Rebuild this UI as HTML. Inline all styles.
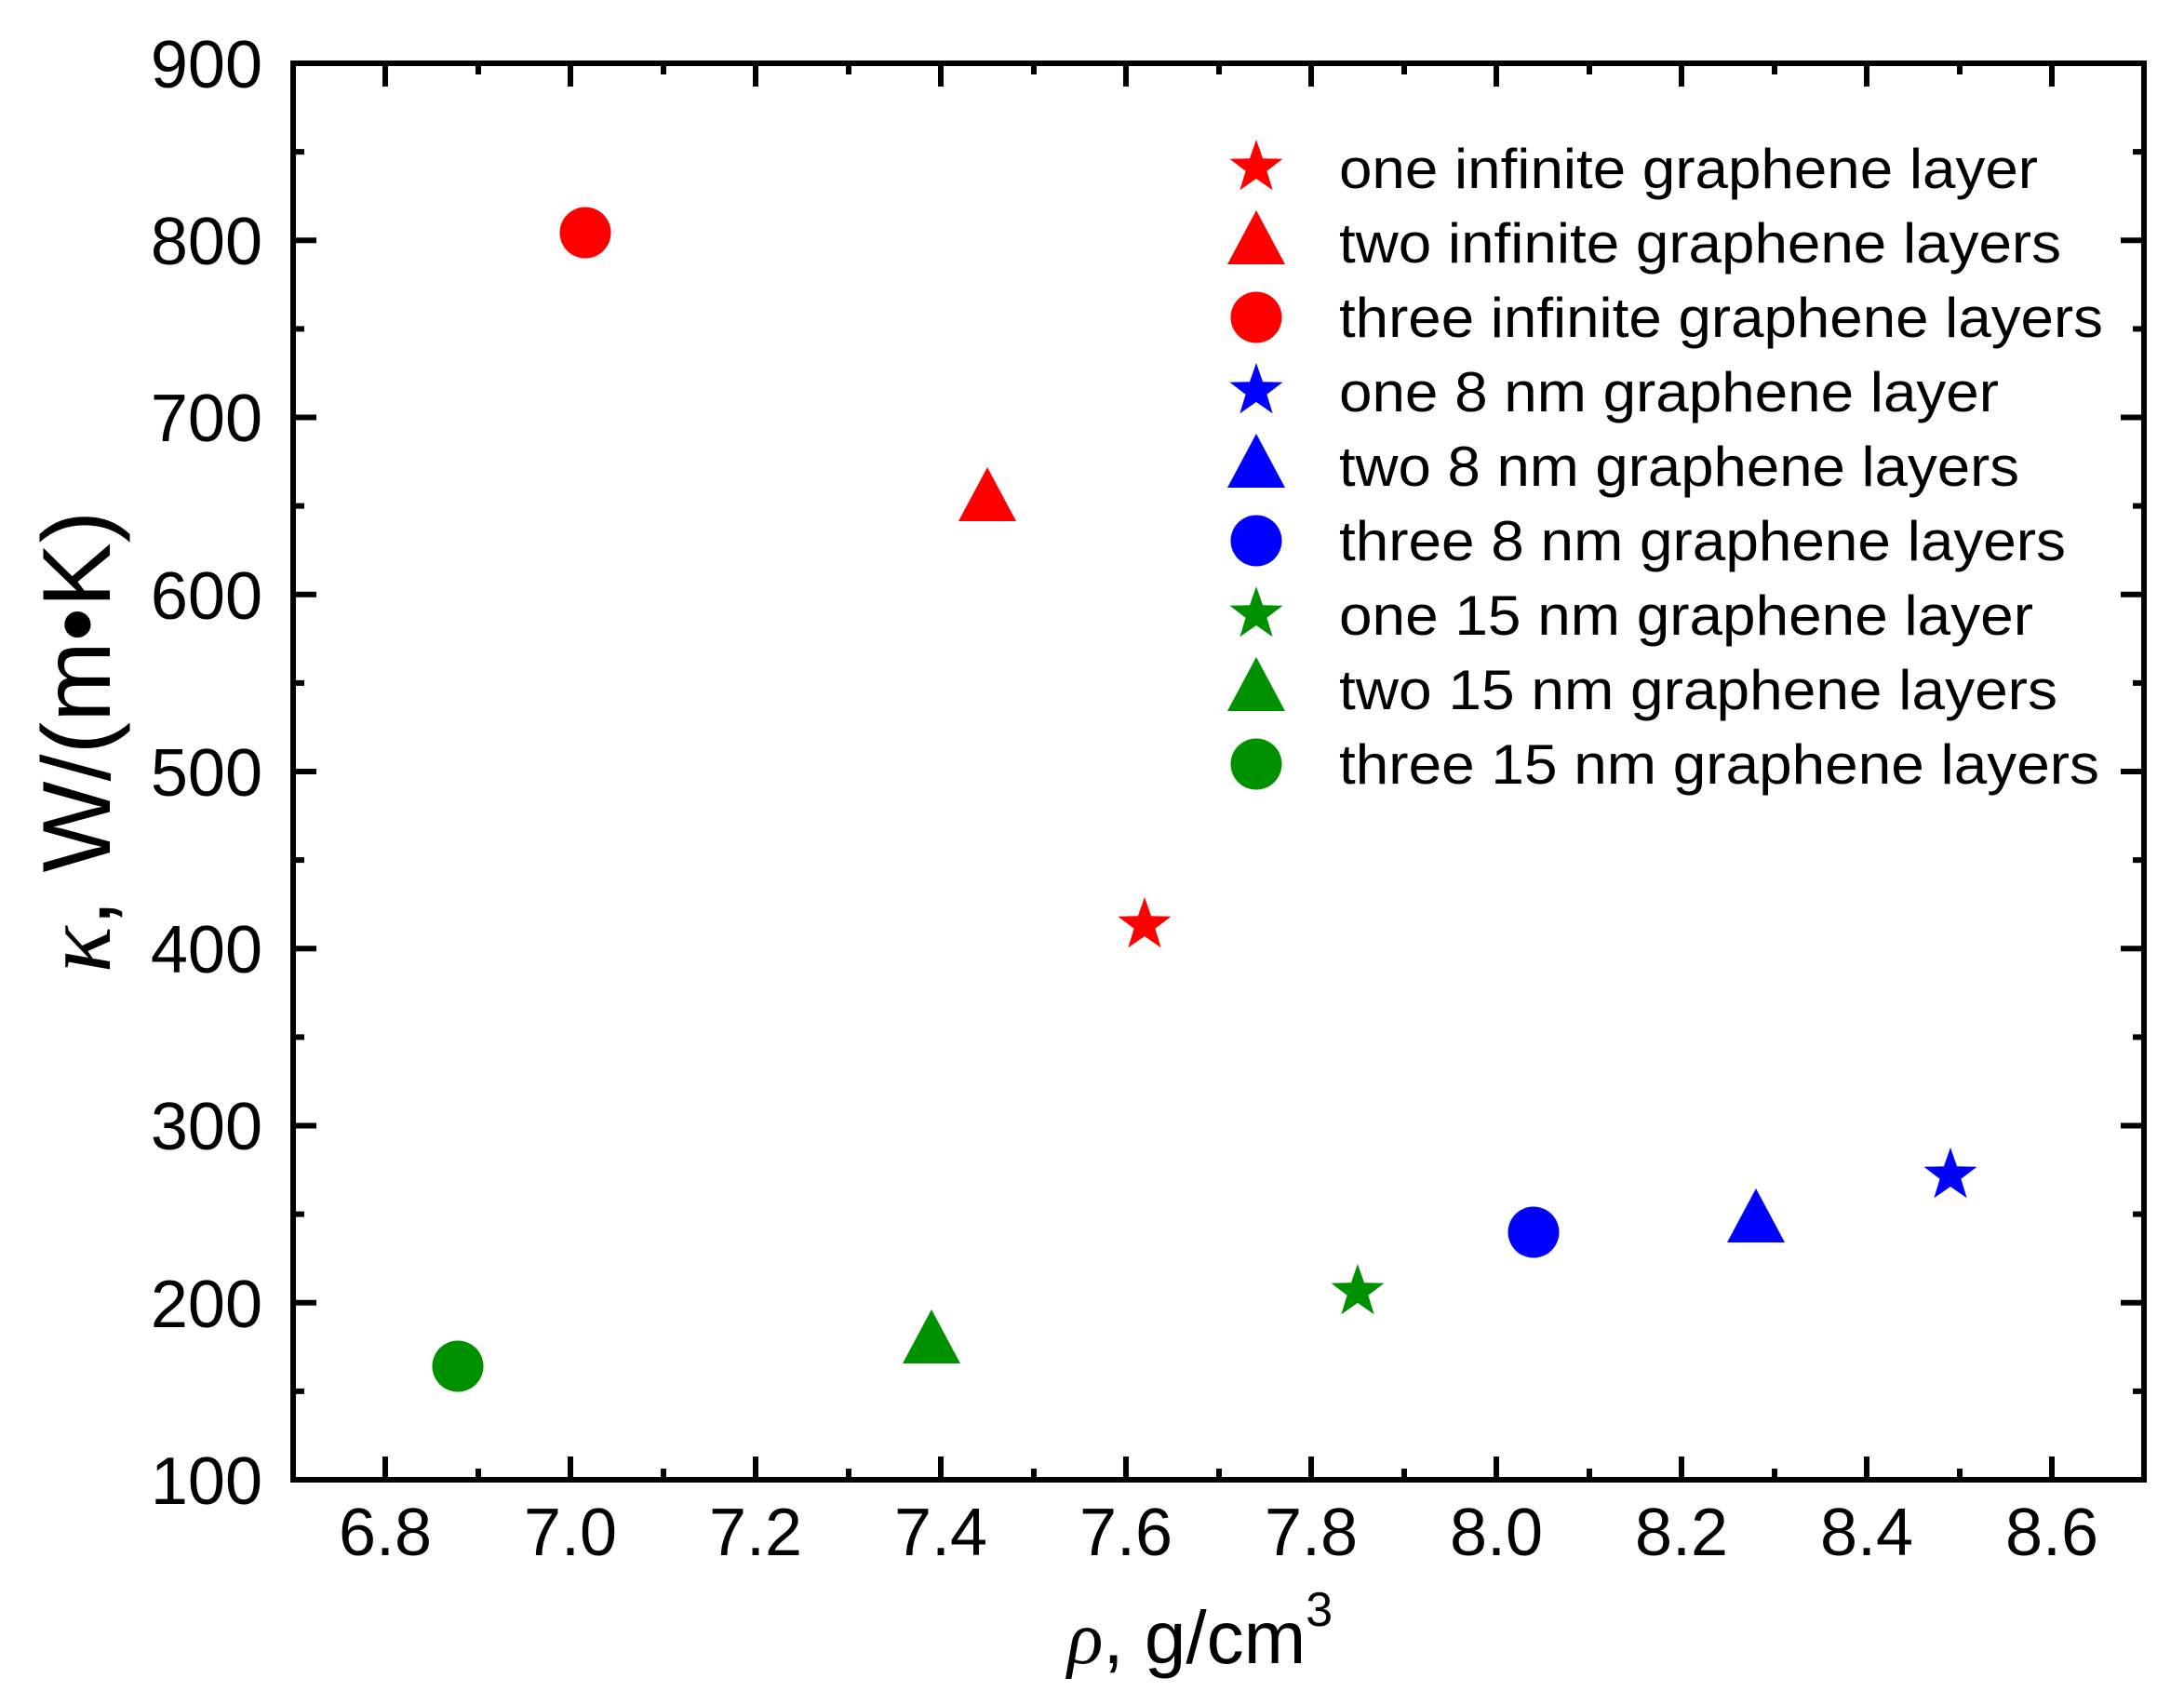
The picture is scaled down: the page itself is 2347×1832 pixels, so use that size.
<!DOCTYPE html>
<html><head><meta charset="utf-8"><style>html,body{margin:0;padding:0;background:#fff}svg{display:block}</style></head>
<body>
<svg width="2347" height="1832" viewBox="0 0 2347 1832" xmlns="http://www.w3.org/2000/svg" font-family="Liberation Sans, Arial, sans-serif">
<defs>
<path id="st" d="M0,-30 L7.05,-9.71 L28.53,-9.27 L11.41,3.71 L17.63,24.27 L0,12 L-17.63,24.27 L-11.41,3.71 L-28.53,-9.27 L-7.05,-9.71 Z"/>
<path id="tr" d="M0,-30 L31,28 L-31,28 Z"/>
<circle id="ci" cx="0" cy="0" r="27.5"/>
</defs>
<rect width="2347" height="1832" fill="#fff"/>
<g stroke="#000" stroke-width="6" fill="none">
<rect x="315" y="68" width="1989" height="1522"/>
<path d="M414,1590v-25M613,1590v-25M812,1590v-25M1011,1590v-25M1210,1590v-25M1409,1590v-25M1608,1590v-25M1807,1590v-25M2006,1590v-25M2205,1590v-25
M514,1590v-12M713,1590v-12M912,1590v-12M1111,1590v-12M1310,1590v-12M1509,1590v-12M1708,1590v-12M1907,1590v-12M2106,1590v-12
M414,68v25M613,68v25M812,68v25M1011,68v25M1210,68v25M1409,68v25M1608,68v25M1807,68v25M2006,68v25M2205,68v25
M514,68v12M713,68v12M912,68v12M1111,68v12M1310,68v12M1509,68v12M1708,68v12M1907,68v12M2106,68v12"/>
<path d="M315,1399.75h25M315,1209.5h25M315,1019.25h25M315,829h25M315,638.75h25M315,448.5h25M315,258.25h25
M315,1494.9h12M315,1304.6h12M315,1114.4h12M315,924.1h12M315,733.9h12M315,543.6h12M315,353.4h12M315,163.1h12
M2304,1399.75h-25M2304,1209.5h-25M2304,1019.25h-25M2304,829h-25M2304,638.75h-25M2304,448.5h-25M2304,258.25h-25
M2304,1494.9h-12M2304,1304.6h-12M2304,1114.4h-12M2304,924.1h-12M2304,733.9h-12M2304,543.6h-12M2304,353.4h-12M2304,163.1h-12"/>
</g>
<g font-size="72" fill="#000" text-anchor="end">
<text x="282" y="1616">100</text><text x="282" y="1426">200</text><text x="282" y="1235">300</text>
<text x="282" y="1045">400</text><text x="282" y="855">500</text><text x="282" y="665">600</text>
<text x="282" y="474">700</text><text x="282" y="284">800</text><text x="282" y="94">900</text>
</g>
<g font-size="72" fill="#000" text-anchor="middle">
<text x="414" y="1671">6.8</text><text x="613" y="1671">7.0</text><text x="812" y="1671">7.2</text>
<text x="1011" y="1671">7.4</text><text x="1210" y="1671">7.6</text><text x="1409" y="1671">7.8</text>
<text x="1608" y="1671">8.0</text><text x="1807" y="1671">8.2</text><text x="2006" y="1671">8.4</text>
<text x="2205" y="1671">8.6</text>
</g>
<text x="1147" y="1787" font-size="80" fill="#000"><tspan font-family="Liberation Serif, serif" font-style="italic">ρ</tspan>, g/cm<tspan font-size="52" dy="-40">3</tspan></text>
<text transform="translate(118,797) rotate(-90)" text-anchor="middle" font-size="104" fill="#000"><tspan font-family="Liberation Serif, serif" font-style="italic">κ</tspan>, W/(m•K)</text>
<use href="#st" x="1230" y="994" fill="#ff0000"/>
<use href="#tr" x="1061" y="532" fill="#ff0000"/>
<use href="#ci" x="629" y="250" fill="#ff0000"/>
<use href="#st" x="2096" y="1263" fill="#0000ff"/>
<use href="#tr" x="1887" y="1307" fill="#0000ff"/>
<use href="#ci" x="1648" y="1324" fill="#0000ff"/>
<use href="#st" x="1459" y="1388" fill="#009100"/>
<use href="#tr" x="1001" y="1437" fill="#009100"/>
<use href="#ci" x="492" y="1468" fill="#009100"/>
<use href="#st" x="1350" y="180" fill="#ff0000"/>
<use href="#tr" x="1350" y="256" fill="#ff0000"/>
<use href="#ci" x="1350" y="341" fill="#ff0000"/>
<use href="#st" x="1350" y="420" fill="#0000ff"/>
<use href="#tr" x="1350" y="496" fill="#0000ff"/>
<use href="#ci" x="1350" y="581" fill="#0000ff"/>
<use href="#st" x="1350" y="660" fill="#009100"/>
<use href="#tr" x="1350" y="736" fill="#009100"/>
<use href="#ci" x="1350" y="821" fill="#009100"/>
<g font-size="60" fill="#000">
<text x="1439" y="202" textLength="751" lengthAdjust="spacingAndGlyphs">one infinite graphene layer</text>
<text x="1439" y="282" textLength="776" lengthAdjust="spacingAndGlyphs">two infinite graphene layers</text>
<text x="1439" y="362" textLength="821" lengthAdjust="spacingAndGlyphs">three infinite graphene layers</text>
<text x="1439" y="442" textLength="709" lengthAdjust="spacingAndGlyphs">one 8 nm graphene layer</text>
<text x="1439" y="522" textLength="731" lengthAdjust="spacingAndGlyphs">two 8 nm graphene layers</text>
<text x="1439" y="602" textLength="781" lengthAdjust="spacingAndGlyphs">three 8 nm graphene layers</text>
<text x="1439" y="682" textLength="746" lengthAdjust="spacingAndGlyphs">one 15 nm graphene layer</text>
<text x="1439" y="762" textLength="772" lengthAdjust="spacingAndGlyphs">two 15 nm graphene layers</text>
<text x="1439" y="842" textLength="817" lengthAdjust="spacingAndGlyphs">three 15 nm graphene layers</text>
</g>
</svg>
</body></html>
